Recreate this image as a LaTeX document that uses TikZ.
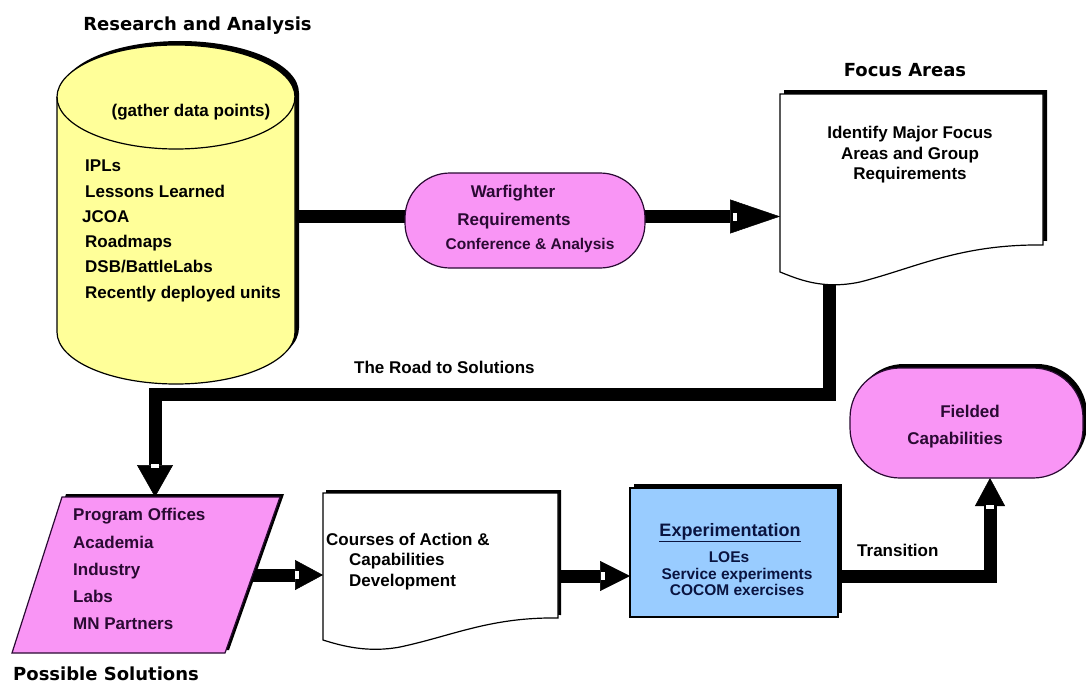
\documentclass[tikz,border=0pt]{standalone}
\usepackage{fontspec}
\setmainfont{Liberation Sans}
\newfontfamily\dvfont{DejaVu Sans}
\usetikzlibrary{arrows.meta,shadows}
\definecolor{pinkf}{HTML}{F995F5}
\definecolor{yell}{HTML}{FFFF99}
\definecolor{bluef}{HTML}{99CCFF}
\definecolor{purtext}{HTML}{2A0A33}
\definecolor{navytext}{HTML}{0A1440}
\newcommand\myfs[1]{\fontsize{#1}{#1}\selectfont}
\begin{document}
\begin{tikzpicture}[x=1pt,y=-1pt,
  lbl/.style={inner sep=0pt, font=\bfseries\myfs{17}},
  sml/.style={inner sep=0pt, font=\bfseries\myfs{15.5}},
  ttl/.style={inner sep=0pt, font=\dvfont\bfseries\myfs{18}},
  conn/.style={line width=13pt, line join=miter, line cap=butt},
  outl/.style={line width=1.2pt},
  blackshadow/.style={general shadow={fill=black, shadow xshift=4pt, shadow yshift=4pt}},
]
\useasboundingbox[fill=white] (0,0) rectangle (1086,685);

% anchor coordinates of the shapes
\coordinate (cylR) at (295,216.5);
\coordinate (focL) at (780,216.5);
\coordinate (focB) at (829,280);
\coordinate (bendA) at (829,394);
\coordinate (bendB) at (155,394);
\coordinate (parT) at (155,497);
\coordinate (parR) at (250,575);
\coordinate (cosL) at (323,575);
\coordinate (cosR) at (558,576);
\coordinate (expL) at (630,576);
\coordinate (expR) at (838,576);
\coordinate (bendC) at (990,576);
\coordinate (fldB) at (990,478);

% connectors
\draw[conn, -{Triangle[length=50pt,width=34pt,line width=0.5pt]}] (cylR) -- (focL);
\draw[conn, -{Triangle[length=32pt,width=36pt,line width=0.5pt]}] (focB) -- (bendA) -- (bendB) -- (parT);
\draw[conn, -{Triangle[length=28pt,width=30pt,line width=0.5pt]}] (parR) -- (cosL);
\draw[conn, -{Triangle[length=30pt,width=30pt,line width=0.5pt]}] (cosR) -- (expL);
\draw[conn, -{Triangle[length=28pt,width=30pt,line width=0.5pt]}] (expR) -- (bendC) -- (fldB);
\fill[white] (733,212.5) rectangle (737,220.5);
\fill[white] (151,464) rectangle (159,468);
\fill[white] (295,571) rectangle (299,579);
\fill[white] (601,572) rectangle (605,580);
\fill[white] (986,505) rectangle (994,509);

% cylinder
\fill[black, shift={(4,-4)}] (57,97) -- (57,332) arc[start angle=180,end angle=0,x radius=119,y radius=52] -- (295,97) arc[start angle=0,end angle=-180,x radius=119,y radius=52] -- cycle;
\filldraw[fill=yell, draw=black, outl] (57,97) -- (57,332) arc[start angle=180,end angle=0,x radius=119,y radius=52] -- (295,97) arc[start angle=0,end angle=-180,x radius=119,y radius=52] -- cycle;
\draw[outl] (57,97) arc[start angle=180,end angle=0,x radius=119,y radius=52];

% warfighter pill
\node[draw=purtext, outl, fill=pinkf, rounded corners=45pt, minimum width=240pt, minimum height=95pt, inner sep=0pt] (war) at (525,220.5) {};

% focus areas document
\fill[black, shift={(4,-4)}] (780,94) -- (1043,94) -- (1043,245) .. controls (960,244) and (915,268) .. (860,282) .. controls (822,290) and (798,279) .. (780,272) -- cycle;
\filldraw[fill=white, draw=black, outl] (780,94) -- (1043,94) -- (1043,245) .. controls (960,244) and (915,268) .. (860,282) .. controls (822,290) and (798,279) .. (780,272) -- cycle;

% possible solutions parallelogram
\fill[black, shift={(4,-3)}] (62,497) -- (280,497) -- (225,653) -- (12,653) -- cycle;
\filldraw[fill=pinkf, draw=purtext, outl] (62,497) -- (280,497) -- (225,653) -- (12,653) -- cycle;

% courses document
\fill[black, shift={(3,-3)}] (323,493) -- (558,493) -- (558,618) .. controls (490,617) and (452,636) .. (400,647) .. controls (368,653) and (342,646) .. (323,640) -- cycle;
\filldraw[fill=white, draw=black, outl] (323,493) -- (558,493) -- (558,618) .. controls (490,617) and (452,636) .. (400,647) .. controls (368,653) and (342,646) .. (323,640) -- cycle;

% experimentation box
\node[draw=black, outl, fill=bluef, minimum width=208pt, minimum height=129pt, inner sep=0pt, blackshadow] (exp) at (734,552.5) {};

% fielded capabilities pill
\node[draw=purtext, outl, fill=pinkf, rounded corners=50pt, minimum width=233pt, minimum height=110pt, inner sep=0pt, blackshadow] (fld) at (966.5,423) {};

% titles
\node[ttl, anchor=base] (tra) at (197.5,31) {Research and Analysis};
\node[ttl, anchor=base] (tfa) at (905,76) {Focus Areas};
\node[ttl, anchor=base west] (tps) at (13,680) {Possible Solutions};

% cylinder text
\node[lbl, anchor=base] (gath) at (191,116) {(gather data points)};
\node[lbl, anchor=base west] (ipl) at (85,171) {IPLs};
\node[lbl, anchor=base west] (les) at (85,197) {Lessons Learned};
\node[lbl, anchor=base west] (jco) at (82,222) {JCOA};
\node[lbl, anchor=base west] (roa) at (85,247) {Roadmaps};
\node[lbl, anchor=base west] (dsb) at (85,272) {DSB/BattleLabs};
\node[lbl, anchor=base west] (rec) at (85,298) {Recently deployed units};

% warfighter text
\node[lbl, anchor=base, text=purtext] (w1) at (513,197) {Warfighter};
\node[lbl, anchor=base, text=purtext] (w2) at (514,225) {Requirements};
\node[sml, anchor=base, text=purtext] (w3) at (530,249) {Conference \& Analysis};

% focus text
\node[lbl, anchor=base] (f1) at (910,138) {Identify Major Focus};
\node[lbl, anchor=base] (f2) at (910,159) {Areas and Group};
\node[lbl, anchor=base] (f3) at (910,179) {Requirements};

% road label
\node[lbl, anchor=base west] (road) at (354,373) {The Road to Solutions};

% possible solutions text
\node[lbl, anchor=base west, text=purtext] (p1) at (73,520) {Program Offices};
\node[lbl, anchor=base west, text=purtext] (p2) at (73,548) {Academia};
\node[lbl, anchor=base west, text=purtext] (p3) at (73,575) {Industry};
\node[lbl, anchor=base west, text=purtext] (p4) at (73,602) {Labs};
\node[lbl, anchor=base west, text=purtext] (p5) at (73,629) {MN Partners};

% courses text
\node[lbl, anchor=base west] (c1) at (326,545) {Courses of Action \&};
\node[lbl, anchor=base west] (c2) at (349,565) {Capabilities};
\node[lbl, anchor=base west] (c3) at (349,586) {Development};

% experimentation text
\node[inner sep=0pt, anchor=base, text=navytext, font=\bfseries\myfs{18}] (e0) at (730,536) {\underline{Experimentation}};
\node[sml, anchor=base, text=navytext] (e1) at (729,562) {LOEs};
\node[sml, anchor=base, text=navytext] (e2) at (737,579) {Service experiments};
\node[sml, anchor=base, text=navytext] (e3) at (737,595) {COCOM exercises};

% transition label
\node[lbl, anchor=base west] (tran) at (857,556) {Transition};

% fielded text
\node[lbl, anchor=base, text=purtext] (fl1) at (970,417) {Fielded};
\node[lbl, anchor=base, text=purtext] (fl2) at (955,444) {Capabilities};
\end{tikzpicture}
\end{document}
